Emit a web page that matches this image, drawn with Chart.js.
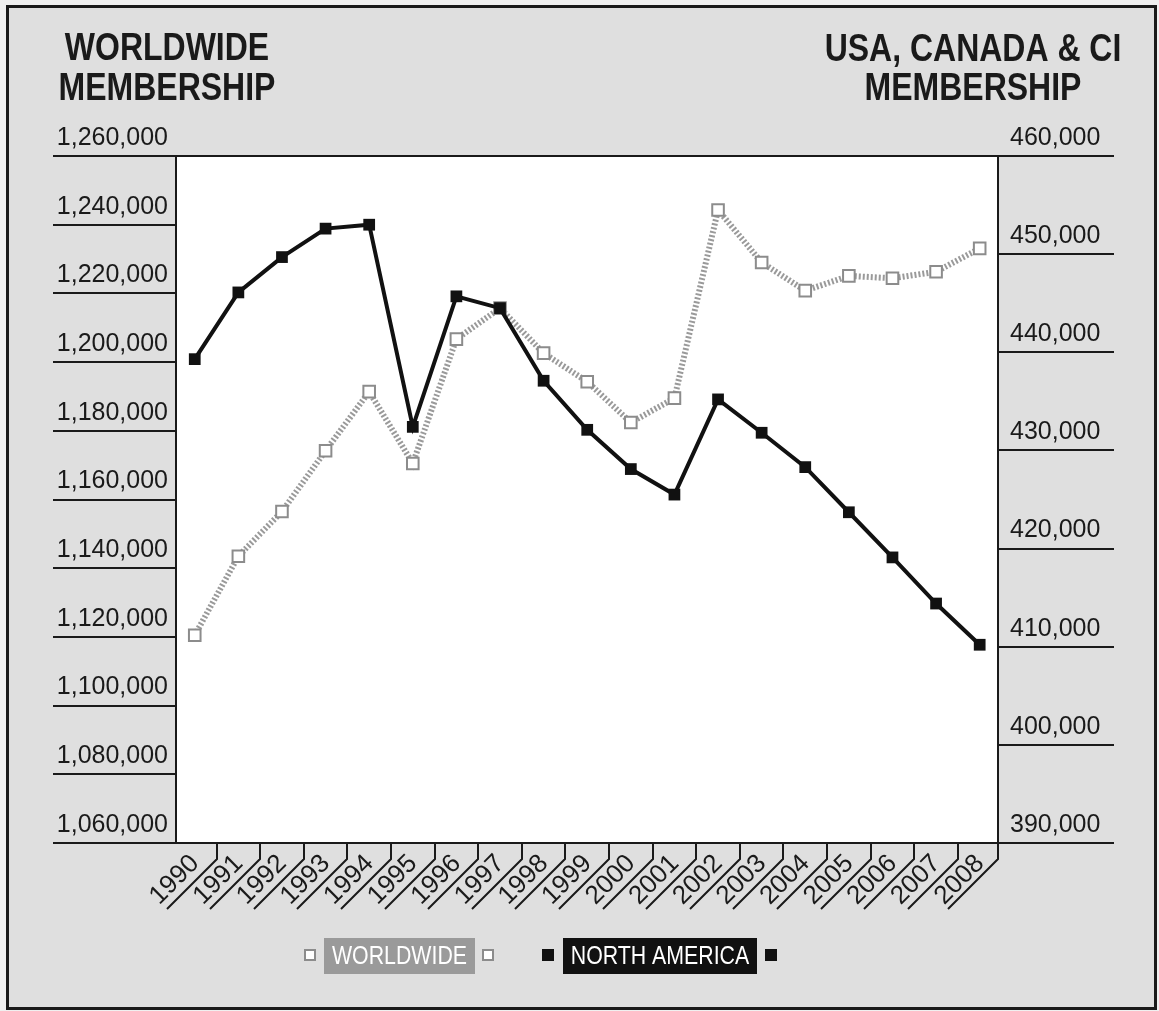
<!DOCTYPE html>
<html>
<head>
<meta charset="utf-8">
<script src="https://cdn.jsdelivr.net/npm/chart.js@4.4.1/dist/chart.umd.min.js"></script>
<style>
html, body { margin: 0; padding: 0; background: #f0f0f0; }
</style>
</head>
<body>
<canvas id="membership_chart" width="1159" height="1011"></canvas>
<script>
// Datos
const years = ['1990', '1991', '1992', '1993', '1994', '1995', '1996', '1997', '1998', '1999',
               '2000', '2001', '2002', '2003', '2004', '2005', '2006', '2007', '2008'];
const worldwide = [1120500, 1143500, 1156500, 1174200, 1191400, 1170500, 1206700, 1215700, 1202600, 1194300,
                   1182400, 1189500, 1244300, 1229000, 1220800, 1225100, 1224400, 1226300, 1233100];
const northAmerica = [439300, 446100, 449700, 452600, 453000, 432400, 445700, 444500, 437100, 432100,
                      428100, 425500, 435200, 431800, 428300, 423700, 419100, 414400, 410200];
const leftRange = [1060000, 1260000, 20000];
const rightRange = [390000, 460000, 10000];
const titleLeft = ['WORLDWIDE', 'MEMBERSHIP'];
const titleRight = ['USA, CANADA & CI', 'MEMBERSHIP'];

const ink = '#1a1a1a';
const grayLine = '#9a9a9a';
const sans = '"Liberation Sans", Arial, sans-serif';

// texto estrecho: no hay fuente condensada instalada, se comprime en horizontal
function narrowText(ctx, text, x, y, squeeze) {
    ctx.save();
    ctx.translate(x, y);
    ctx.scale(squeeze, 1);
    ctx.fillText(text, 0, 0);
    ctx.restore();
}

// Marco, títulos, etiquetas de años y leyenda
const decor = {
    id: 'decor',
    beforeDraw(chart) {
        const ctx = chart.ctx;
        const a = chart.chartArea;
        ctx.save();
        ctx.fillStyle = '#f0f0f0';
        ctx.fillRect(0, 0, chart.width, chart.height);
        ctx.fillStyle = '#dfdfdf';
        ctx.fillRect(7, 6, 1149, 1003);
        ctx.strokeStyle = ink;
        ctx.lineWidth = 3;
        ctx.strokeRect(7.5, 6.5, 1148, 1002);
        ctx.fillStyle = '#ffffff';
        ctx.fillRect(a.left, a.top, a.right - a.left, a.bottom - a.top);
        ctx.restore();
    },
    beforeDatasetsDraw(chart) {
        const ctx = chart.ctx;
        const a = chart.chartArea;
        ctx.save();
        ctx.strokeStyle = ink;
        ctx.lineWidth = 2;
        ctx.beginPath();
        ctx.moveTo(a.left, a.top); ctx.lineTo(a.right, a.top);
        ctx.moveTo(a.left, a.bottom); ctx.lineTo(a.right, a.bottom);
        ctx.stroke();
        ctx.restore();
    },
    afterDraw(chart) {
        const ctx = chart.ctx;
        const a = chart.chartArea;
        const xs = chart.scales.x;
        ctx.save();

        // separadores diagonales del eje x
        ctx.strokeStyle = ink;
        ctx.lineWidth = 2;
        ctx.beginPath();
        years.forEach((yr, i) => {
            const sx = i < years.length - 1 ? Math.round(xs.getPixelForValue(i + 0.5)) : a.right;
            ctx.moveTo(sx, a.bottom);
            ctx.lineTo(sx, a.bottom + 16);
            ctx.lineTo(sx - 50, a.bottom + 66);
        });
        ctx.stroke();

        // etiquetas de años rotadas
        ctx.fillStyle = ink;
        ctx.font = '26px ' + sans;
        ctx.textAlign = 'center';
        ctx.textBaseline = 'middle';
        years.forEach((yr, i) => {
            const px = xs.getPixelForValue(i);
            ctx.save();
            ctx.translate(px - 20, a.bottom + 37);
            ctx.rotate(-Math.PI / 4);
            ctx.fillText(yr, 0, 0);
            ctx.restore();
        });

        // títulos de los ejes
        ctx.font = 'bold 39px ' + sans;
        ctx.textBaseline = 'alphabetic';
        narrowText(ctx, titleLeft[0], 167, 60, 0.82);
        narrowText(ctx, titleLeft[1], 167, 100, 0.82);
        narrowText(ctx, titleRight[0], 973, 61, 0.82);
        narrowText(ctx, titleRight[1], 973, 100, 0.82);

        // leyenda
        const na = chart.data.datasets[0];
        const ww = chart.data.datasets[1];
        const hollow = (cx, cy) => {
            ctx.fillStyle = '#ffffff';
            ctx.fillRect(cx - 5, cy - 5, 10, 10);
            ctx.strokeStyle = ww.pointBorderColor;
            ctx.lineWidth = 2;
            ctx.strokeRect(cx - 5, cy - 5, 10, 10);
        };
        const solid = (cx, cy) => {
            ctx.fillStyle = na.pointBackgroundColor;
            ctx.fillRect(cx - 6, cy - 6, 12, 12);
        };
        ctx.font = '26px ' + sans;
        ctx.textAlign = 'center';
        ctx.textBaseline = 'middle';
        hollow(310, 955);
        ctx.fillStyle = grayLine;
        ctx.fillRect(324, 938, 151, 36);
        ctx.fillStyle = '#ffffff';
        narrowText(ctx, ww.label, 399.5, 957, 0.82);
        hollow(488, 955);

        solid(548, 955);
        ctx.fillStyle = na.borderColor;
        ctx.fillRect(563, 938, 194, 36);
        ctx.fillStyle = '#ffffff';
        narrowText(ctx, na.label, 660, 957, 0.82);
        solid(771, 955);

        ctx.restore();
    }
};

const toPoints = arr => arr.map((v, i) => ({x: i, y: v}));
const fmt = v => v.toLocaleString('en-US');

const ctxMembership = document.getElementById('membership_chart').getContext('2d');
const membershipChart = new Chart(ctxMembership, {
    type: 'line',
    data: {
        datasets: [{
            label: 'NORTH AMERICA',
            data: toPoints(northAmerica),
            yAxisID: 'yRight',
            borderColor: '#111111',
            backgroundColor: '#111111',
            borderWidth: 4,
            pointStyle: 'rect',
            pointRadius: 8.3,
            pointBorderWidth: 0,
            pointBackgroundColor: '#111111',
            order: 0
        }, {
            label: 'WORLDWIDE',
            data: toPoints(worldwide),
            yAxisID: 'yLeft',
            borderColor: grayLine,
            borderWidth: 6,
            borderDash: [2, 2],
            pointStyle: 'rect',
            pointRadius: 8.2,
            pointBorderWidth: 2,
            pointBorderColor: '#8c8c8c',
            pointBackgroundColor: '#ffffff',
            order: 1
        }]
    },
    options: {
        responsive: false,
        animation: false,
        layout: {
            padding: {left: 53, right: 45, top: 156, bottom: 168}
        },
        plugins: {
            legend: {display: false},
            tooltip: {enabled: false}
        },
        scales: {
            x: {
                type: 'linear',
                display: false,
                min: -0.43,
                max: 18.42
            },
            yLeft: {
                position: 'left',
                min: leftRange[0],
                max: leftRange[1],
                ticks: {
                    stepSize: leftRange[2],
                    callback: fmt,
                    font: {family: sans, size: 25},
                    color: ink,
                    padding: -115,
                    labelOffset: -18
                },
                grid: {drawOnChartArea: false, tickLength: 123, color: ink, lineWidth: 2},
                border: {color: ink, width: 2},
                afterFit: s => { s.width = 123; }
            },
            yRight: {
                position: 'right',
                min: rightRange[0],
                max: rightRange[1],
                ticks: {
                    stepSize: rightRange[2],
                    callback: fmt,
                    font: {family: sans, size: 25},
                    color: ink,
                    padding: -104,
                    labelOffset: -18
                },
                grid: {drawOnChartArea: false, tickLength: 116, color: ink, lineWidth: 2},
                border: {color: ink, width: 2},
                afterFit: s => { s.width = 116; }
            }
        }
    },
    plugins: [decor]
});
</script>
</body>
</html>
